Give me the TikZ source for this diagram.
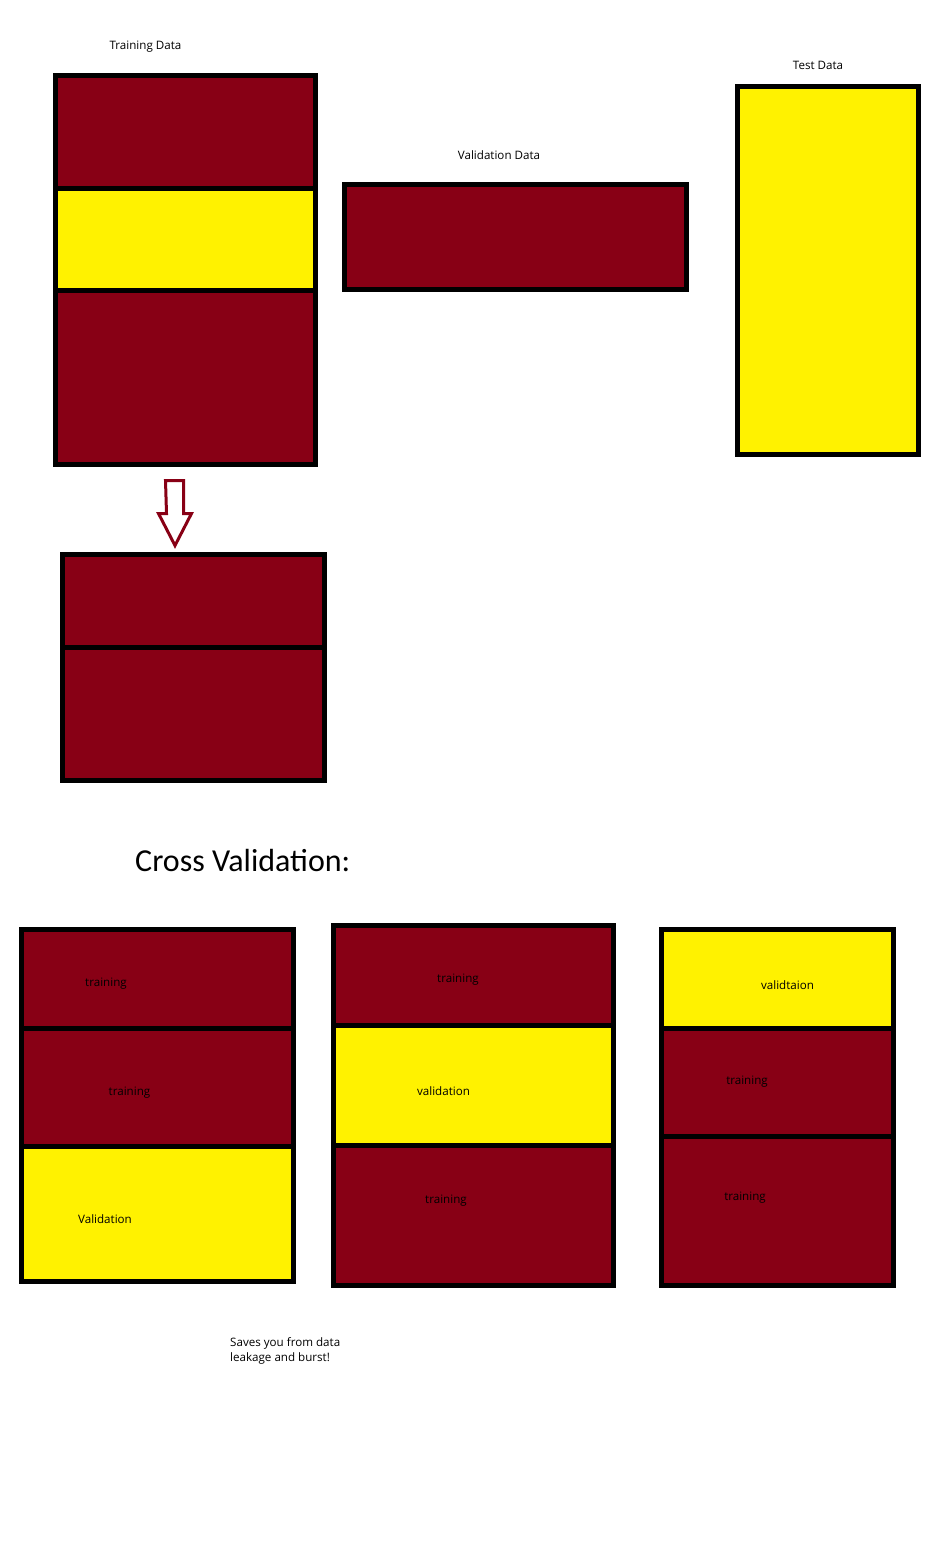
\documentclass[tikz,border=0pt]{standalone}
\usepackage{fontspec}
\setmainfont{Open Sans}
\newfontfamily\headfont{Carlito}
\definecolor{paintRed}{RGB}{136,0,21}
\definecolor{paintYellow}{RGB}{255,242,0}
\usetikzlibrary{calc}

\begin{document}
\begin{tikzpicture}[x=1pt, y=-1pt,
  band/.style={rectangle, draw=black, line width=5pt, outer sep=0pt,
    inner sep=0pt, anchor=north west},
  trainband/.style={band, fill=paintRed},
  valband/.style={band, fill=paintYellow},
  lbl/.style={font=\fontsize{11.6}{15}\selectfont, inner sep=0pt, yshift=-2pt},
  title/.style={font=\headfont\fontsize{32}{38}\selectfont, inner sep=0pt}
]
  \useasboundingbox[fill=white] (0,0) rectangle (940,1564);

  % Split of the data
  \node[lbl] (trainlbl) at (145.5,45) {Training Data};
  \node[trainband, minimum width=260pt, minimum height=113pt] (trA) at (55.5,75.5) {};
  \node[valband, minimum width=260pt, minimum height=102pt] (trB) at (55.5,188.5) {};
  \node[trainband, minimum width=260pt, minimum height=174pt] (trC) at (55.5,290.5) {};

  \node[lbl] (vallbl) at (499,153) {Validation Data};
  \node[trainband, minimum width=342pt, minimum height=105pt] (valset) at (344.5,184.5) {};

  \node[lbl] (testlbl) at (818,63) {Test Data};
  \node[valband, minimum width=181pt, minimum height=368pt] (testset) at (737.5,86.5) {};

  % Hollow arrow down
  \coordinate (arrtop) at (174.5,480.5);
  \draw[paintRed, line width=3pt, fill=white, line join=miter]
    (arrtop) ++(-9,0) -- ++(18,0) -- ++(0,33) -- ++(8,0) -- ++(-16.5,32)
    -- ++(-16.5,-32) -- ++(8,0) -- cycle;

  \node[trainband, minimum width=262pt, minimum height=92.5pt] (lowA) at (62.5,554.5) {};
  \node[trainband, minimum width=262pt, minimum height=133.5pt] (lowB) at (62.5,647) {};

  % Cross validation folds
  \node[title, anchor=base west] (cvtitle) at (135,871) {Cross Validation:};

  \node[trainband, minimum width=272pt, minimum height=99pt] (fa1) at (21.5,929.5) {};
  \node[trainband, minimum width=272pt, minimum height=118pt] (fa2) at (21.5,1028.5) {};
  \node[valband, minimum width=272pt, minimum height=135pt] (fa3) at (21.5,1146.5) {};
  \node[lbl] at (106,982) {training};
  \node[lbl] at (129.5,1091) {training};
  \node[lbl] at (105,1217) {Validation};

  \node[trainband, minimum width=280pt, minimum height=100pt] (fb1) at (333.5,925.5) {};
  \node[valband, minimum width=280pt, minimum height=120pt] (fb2) at (333.5,1025.5) {};
  \node[trainband, minimum width=280pt, minimum height=140pt] (fb3) at (333.5,1145.5) {};
  \node[lbl] at (458,978) {training};
  \node[lbl] at (443.5,1089) {validation};
  \node[lbl] at (446,1199) {training};

  \node[valband, minimum width=232pt, minimum height=99pt] (fc1) at (661.5,929.5) {};
  \node[trainband, minimum width=232pt, minimum height=108pt] (fc2) at (661.5,1028.5) {};
  \node[trainband, minimum width=232pt, minimum height=149pt] (fc3) at (661.5,1136.5) {};
  \node[lbl] at (787.5,983) {validtaion};
  \node[lbl] at (747,1080) {training};
  \node[lbl] at (745,1196) {training};

  \node[lbl, anchor=north west, align=left] (note) at (230,1335)
    {Saves you from data\\leakage and burst!};
\end{tikzpicture}
\end{document}
